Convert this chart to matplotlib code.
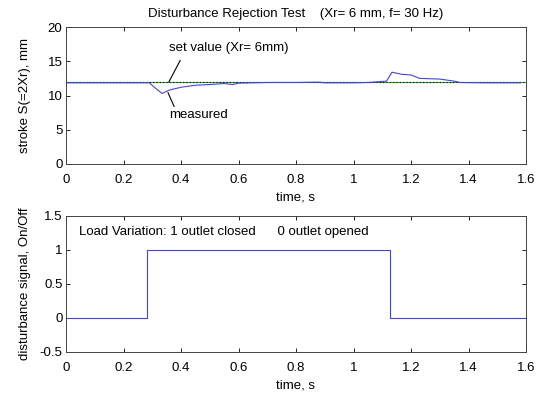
import matplotlib
matplotlib.use("Agg")
import matplotlib.pyplot as plt

plt.rcParams['font.family'] = ['Liberation Sans', 'DejaVu Sans']
plt.rcParams['font.size'] = 9.5

# stroke response (mm) over time (s)
t_meas = [0.0, 0.10, 0.20, 0.29, 0.31, 0.334, 0.36, 0.40, 0.45, 0.50, 0.55, 0.58,
          0.60, 0.70, 0.80, 0.88, 0.90, 1.00, 1.05, 1.115, 1.134, 1.167, 1.20,
          1.23, 1.30, 1.35, 1.37, 1.45, 1.58]
s_meas = [11.85, 11.85, 11.85, 11.85, 11.1, 10.3, 10.8, 11.2, 11.5, 11.6, 11.75, 11.6,
          11.8, 11.9, 11.9, 11.95, 11.85, 11.85, 11.9, 12.1, 13.4, 13.1, 13.0,
          12.5, 12.4, 12.1, 11.9, 11.85, 11.85]
set_value = 12.0

# disturbance on/off signal
t_dist = [0.0, 0.283, 0.283, 1.127, 1.127, 1.6]
d_dist = [0, 0, 1, 1, 0, 0]

xt = [0, 0.2, 0.4, 0.6, 0.8, 1, 1.2, 1.4, 1.6]
xtl = ['0', '0.2', '0.4', '0.6', '0.8', '1', '1.2', '1.4', '1.6']

fig = plt.figure(figsize=(5.41, 3.94), dpi=100)
ax1 = fig.add_axes([66/541, 1-164/394, 460/541, 137/394])
ax2 = fig.add_axes([66/541, 1-352/394, 460/541, 136/394])

blue = '#4444dd'

ax1.plot([0, 1.6], [set_value, set_value], color='#33aa33', lw=0.8)
ax1.plot([0, 1.6], [set_value, set_value], color='k', lw=0.8, ls=(0, (1, 2)))
ax1.plot(t_meas, s_meas, color=blue, lw=0.8)
ax1.set_xlim(0, 1.6)
ax1.set_ylim(0, 20)
ax1.set_yticks([0, 5, 10, 15, 20])
ax1.set_xticks(xt)
ax1.set_xticklabels(xtl)
ax1.set_xlabel('time, s', labelpad=4)
ax1.set_ylabel('stroke S(=2Xr), mm', labelpad=12)
ax1.set_title('Disturbance Rejection Test    (Xr= 6 mm, f= 30 Hz)', fontsize=9.5, pad=7)
ax1.plot([0.358, 0.397], [set_value, 15.1], color='k', lw=0.8)
ax1.text(0.358, 17.0, 'set value (Xr= 6mm)', va='center')
ax1.plot([0.355, 0.376], [10.4, 8.4], color='k', lw=0.8)
ax1.text(0.358, 7.2, 'measured', va='center')

ax2.plot(t_dist, d_dist, color=blue, lw=0.8)
ax2.set_xlim(0, 1.6)
ax2.set_ylim(-0.5, 1.5)
ax2.set_yticks([-0.5, 0, 0.5, 1, 1.5])
ax2.set_yticklabels(['-0.5', '0', '0.5', '1', '1.5'])
ax2.set_xticks(xt)
ax2.set_xticklabels(xtl)
ax2.set_xlabel('time, s', labelpad=4)
ax2.set_ylabel('disturbance signal, On/Off', labelpad=6)
ax2.text(0.045, 1.26, 'Load Variation: 1 outlet closed      0 outlet opened', va='center')

for ax in (ax1, ax2):
    ax.tick_params(direction='in', top=True, right=True, length=3, width=0.6)
    ax.tick_params(axis='x', pad=7)
    ax.tick_params(axis='y', pad=2.5)
    for sp in ax.spines.values():
        sp.set_linewidth(0.7)
        sp.set_color('#444444')

fig.savefig('out.png', dpi=100)
